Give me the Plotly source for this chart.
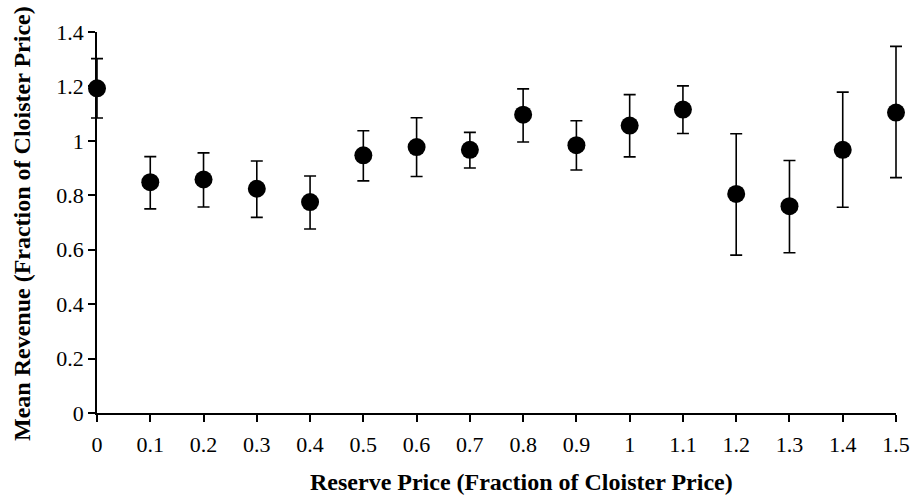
import plotly.graph_objects as go

reserve = [0, 0.1, 0.2, 0.3, 0.4, 0.5, 0.6, 0.7, 0.8, 0.9, 1.0, 1.1, 1.2, 1.3, 1.4, 1.5]
mean_rev = [1.193, 0.848, 0.858, 0.824, 0.775, 0.947, 0.977, 0.967, 1.096, 0.984, 1.056, 1.115, 0.805, 0.760, 0.967, 1.104]
upper = [1.302, 0.942, 0.956, 0.926, 0.871, 1.037, 1.085, 1.031, 1.191, 1.074, 1.170, 1.202, 1.026, 0.928, 1.179, 1.347]
lower = [1.084, 0.750, 0.757, 0.719, 0.676, 0.853, 0.869, 0.900, 0.996, 0.893, 0.941, 1.027, 0.580, 0.589, 0.756, 0.865]

x_ticks = [0, 0.1, 0.2, 0.3, 0.4, 0.5, 0.6, 0.7, 0.8, 0.9, 1.0, 1.1, 1.2, 1.3, 1.4, 1.5]
x_labels = ["0", "0.1", "0.2", "0.3", "0.4", "0.5", "0.6", "0.7", "0.8", "0.9", "1", "1.1", "1.2", "1.3", "1.4", "1.5"]
y_ticks = [0, 0.2, 0.4, 0.6, 0.8, 1.0, 1.2, 1.4]
y_labels = ["0", "0.2", "0.4", "0.6", "0.8", "1", "1.2", "1.4"]

x_title = "Reserve Price (Fraction of Cloister Price)"
y_title = "Mean Revenue (Fraction of Cloister Price)"

err_plus = [u - m for u, m in zip(upper, mean_rev)]
err_minus = [m - l for m, l in zip(mean_rev, lower)]

font_family = "Liberation Serif, Times New Roman, serif"

# layout geometry (pixels)
W, H = 918, 495
ML, MR, MT, MB = 87, 12, 32, 82
PAD = 10  # extra room so end error-bar caps are not clipped
plot_w = W - ML - MR
plot_h = H - MT - MB
dom0 = PAD / plot_w
dom1 = 1 - PAD / plot_w
x_min, x_max = 0, 1.5
per_px = (x_max - x_min) / (plot_w - 2 * PAD)
x2_range = [x_min - PAD * per_px, x_max + PAD * per_px]

def px_to_paper_x(px):
    return (px - ML) / plot_w

def px_to_paper_y(py):
    return (H - MB - py) / plot_h

fig = go.Figure()
# invisible trace that carries the visible axes
fig.add_trace(go.Scatter(
    x=reserve, y=mean_rev, mode="markers", xaxis="x", yaxis="y",
    marker=dict(color="rgba(0,0,0,0)", size=1), hoverinfo="skip", showlegend=False,
))
# visible data, on a slightly wider (hidden) x axis so end caps are not clipped
fig.add_trace(go.Scatter(
    x=reserve, y=mean_rev, mode="markers", xaxis="x2", yaxis="y",
    marker=dict(color="black", size=18, line=dict(width=0)),
    error_y=dict(type="data", symmetric=False, array=err_plus, arrayminus=err_minus,
                 color="black", thickness=1.6, width=6),
    showlegend=False, cliponaxis=False,
))

fig.update_layout(
    width=W, height=H,
    margin=dict(l=ML, r=MR, t=MT, b=MB, autoexpand=False),
    paper_bgcolor="white", plot_bgcolor="rgba(0,0,0,0)",
    font=dict(family=font_family, size=22, color="black"),
    xaxis=dict(
        domain=[dom0, dom1], anchor="y", automargin=False,
        range=[x_min, x_max], tickmode="array", tickvals=x_ticks, ticktext=x_labels,
        showgrid=False, zeroline=False, showline=True, linecolor="black", linewidth=1.5,
        ticks="outside", ticklen=7, tickwidth=1.5, tickcolor="black",
        ticklabelstandoff=4,
        tickfont=dict(size=22, family=font_family),
    ),
    xaxis2=dict(
        domain=[0, 1], anchor="y", range=x2_range, automargin=False,
        visible=False, showgrid=False, zeroline=False,
    ),
    yaxis=dict(
        anchor="x", automargin=False,
        range=[0, 1.4], tickmode="array", tickvals=y_ticks, ticktext=y_labels,
        showgrid=False, zeroline=False, showline=True, linecolor="black", linewidth=1.5,
        ticks="outside", ticklen=7, tickwidth=1.5, tickcolor="black",
        tickfont=dict(size=22, family=font_family),
    ),
    annotations=[
        dict(text="<b>" + x_title + "</b>", xref="paper", yref="paper",
             x=px_to_paper_x(521), y=px_to_paper_y(482), xanchor="center", yanchor="middle",
             showarrow=False, font=dict(size=24, family=font_family, color="black")),
        dict(text="<b>" + y_title + "</b>", xref="paper", yref="paper", textangle=-90,
             x=px_to_paper_x(22), y=px_to_paper_y(224), xanchor="center", yanchor="middle",
             showarrow=False, font=dict(size=24, family=font_family, color="black")),
    ],
)

fig.write_html("out.html")
